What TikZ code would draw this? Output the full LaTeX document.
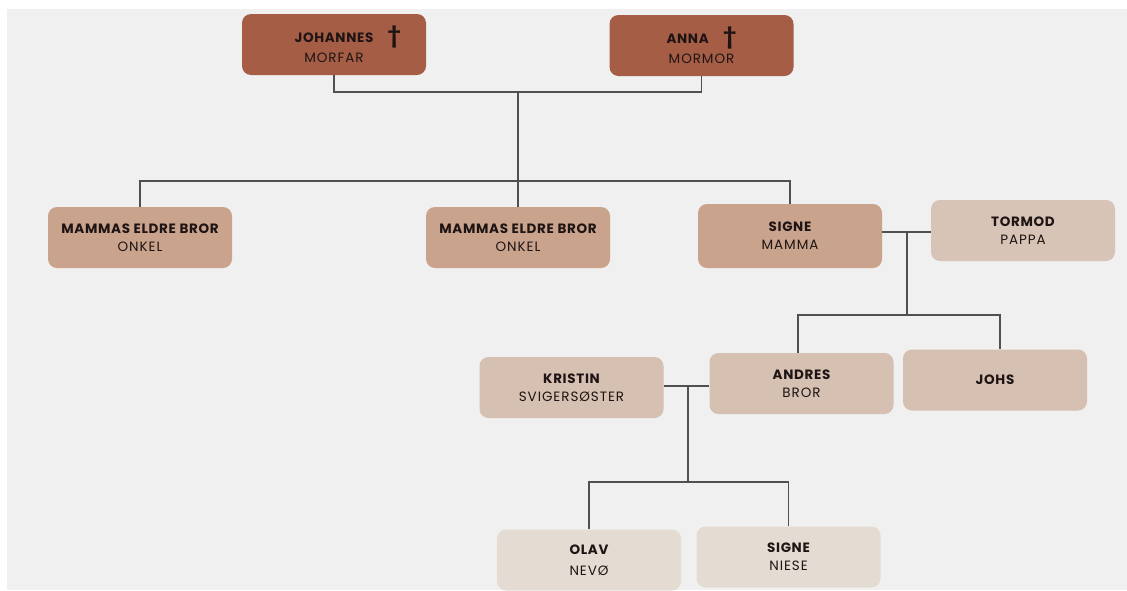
\documentclass[tikz,border=0pt]{standalone}
\usepackage{fontspec}
\setmainfont{Poppins}
\newfontfamily\namefont[LetterSpace=5]{Poppins}
\newfontfamily\rolefont[LetterSpace=7]{Poppins}
\usetikzlibrary{positioning}

\definecolor{bgray}{HTML}{F0F0F0}
\definecolor{terra}{HTML}{A65D46}
\definecolor{sand}{HTML}{C9A38B}
\definecolor{beige}{HTML}{D5C0B1}
\definecolor{cream}{HTML}{E4DBD2}
\definecolor{ink}{HTML}{1E1414}
\definecolor{wire}{HTML}{505050}

\newcommand{\who}[3][6pt]{{\namefont\fontsize{13.5}{15}\selectfont\bfseries #2}\\[#1]{\rolefont\fontsize{13.5}{15}\selectfont #3}}
\newcommand{\deadmark}{\hspace{14pt}{\fontsize{21}{15}\selectfont\bfseries †}}

\begin{document}
\begin{tikzpicture}[
  x=1pt,y=-1pt,
  person/.style={rectangle,rounded corners=9pt,minimum width=184pt,minimum height=61pt,
    inner sep=0pt,align=center,text=ink},
  old/.style={person,fill=terra},
  mid/.style={person,fill=sand},
  light/.style={person,fill=beige},
  young/.style={person,fill=cream},
  link/.style={draw=wire,line width=1.2pt}
]
\useasboundingbox (0,0) rectangle (1127,590);
\fill[white] (0,0) rectangle (1127,590);
\fill[bgray] (7,9) rectangle (1127,590);

% grandparents
\node[old] (johannes) at (334,44.5) {\who[4pt]{JOHANNES\rlap{\deadmark}}{MORFAR}};
\node[old] (anna) at (701.5,45.5) {\who[4pt]{ANNA\deadmark}{MORMOR}};

% children of grandparents
\node[mid] (onkelA) at (140,237.5) {\who{MAMMAS ELDRE BROR}{ONKEL}};
\node[mid] (onkelB) at (518,237.5) {\who{MAMMAS ELDRE BROR}{ONKEL}};
\node[mid,minimum height=64pt] (signe) at (790,236) {\who{SIGNE}{MAMMA}};
\node[light,fill=beige!85!cream] (tormod) at (1023,230.5) {\who{TORMOD}{PAPPA}};

% next generation
\node[light] (kristin) at (571.5,387.5) {\who{KRISTIN}{SVIGERSØSTER}};
\node[light] (andres) at (801.5,383.5) {\who{ANDRES}{BROR}};
\node[light] (johs) at (995,380) {{\namefont\fontsize{13.5}{15}\selectfont\bfseries JOHS}};

% grandchildren
\node[young] (olav) at (589,560) {\who[9pt]{OLAV}{NEVØ}};
\node[young] (signeB) at (788.5,557) {\who{SIGNE}{NIESE}};

% connectors
\coordinate (gpmid) at (518,92);
\coordinate (gpkids) at (518,181);
\draw[link] (johannes.south) |- (gpmid) -| (anna.south);
\draw[link] (gpmid) -- (gpkids);
\draw[link] (onkelA.north) |- (gpkids) -| (signe.north);
\draw[link] (gpkids) -- (onkelB.north);

\coordinate (parmid) at (907,232);
\coordinate (parkids) at (907,315);
\draw[link] (signe.east |- parmid) -- (tormod.west |- parmid);
\draw[link] (parmid) -- (parkids);
\draw[link] (andres.north -| 798,0) |- (parkids) -| (johs.north -| 1000,0);

\coordinate (brmid) at (688,386);
\coordinate (brkids) at (688,482);
\draw[link] (kristin.east |- brmid) -- (andres.west |- brmid);
\draw[link] (brmid) -- (brkids);
\draw[link] (olav.north) |- (brkids) -| (signeB.north);
\end{tikzpicture}
\end{document}
